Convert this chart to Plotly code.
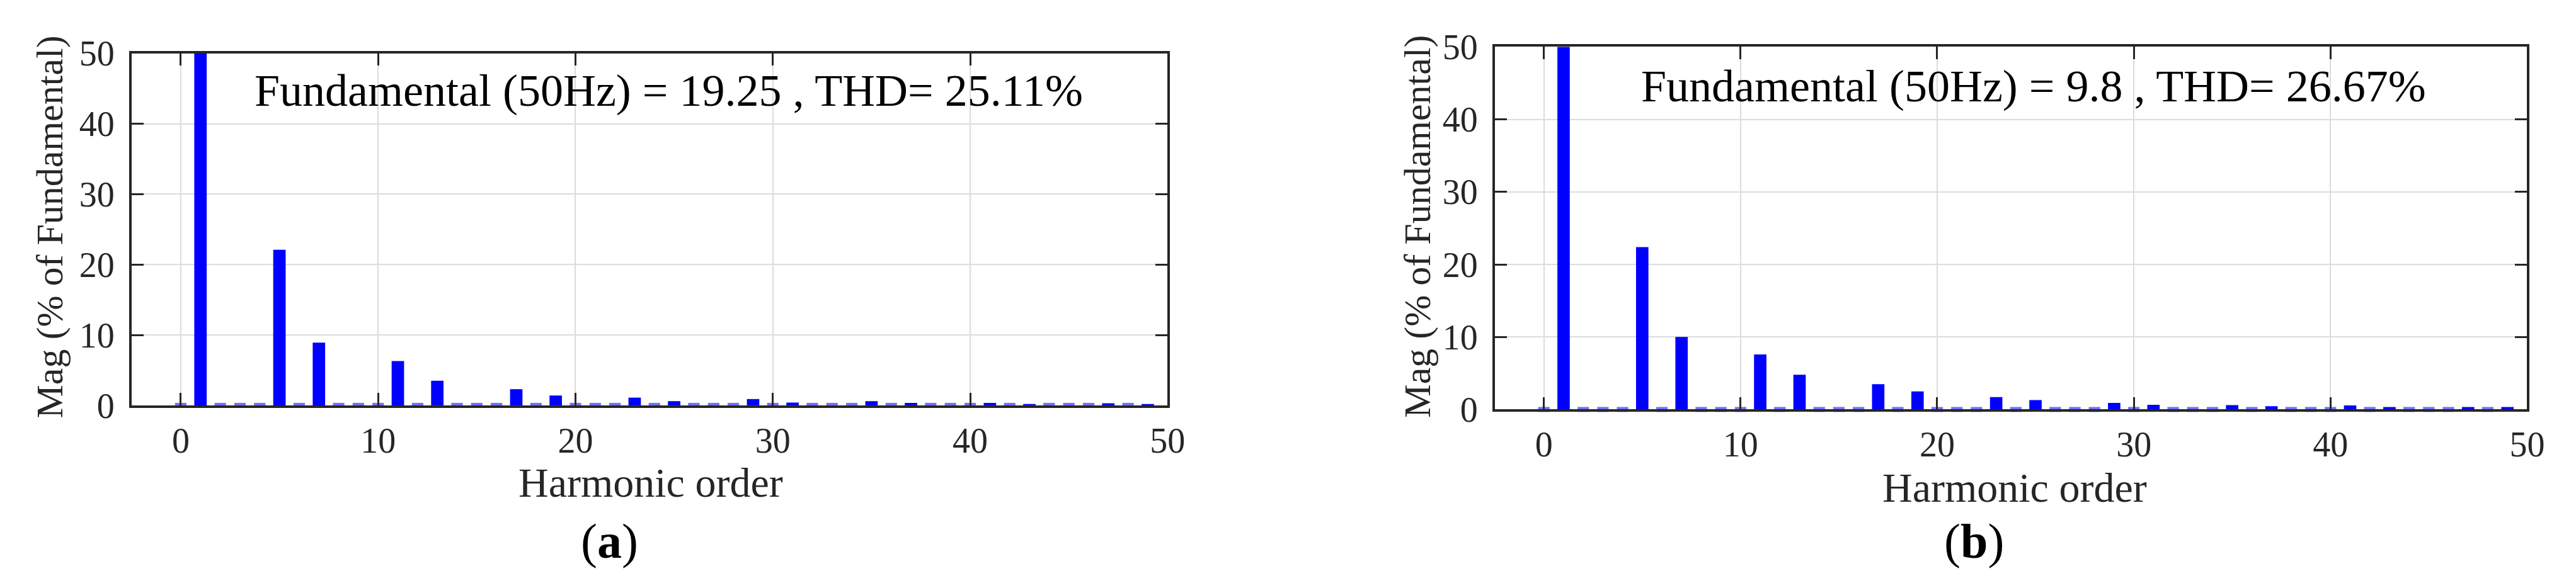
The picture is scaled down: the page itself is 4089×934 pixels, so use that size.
import plotly.graph_objects as go

# -----------------------------
# Daten
# -----------------------------
orders = [0, 1, 2, 3, 4, 5, 6, 7, 8, 9, 10, 11, 12, 13, 14, 15, 16, 17, 18, 19,
          20, 21, 22, 23, 24, 25, 26, 27, 28, 29, 30, 31, 32, 33, 34, 35, 36, 37, 38, 39,
          40, 41, 42, 43, 44, 45, 46, 47, 48, 49]

harm_a = [1, 5, 7, 11, 13, 17, 19, 23, 25, 29, 31, 35, 37, 41, 43, 47, 49]
mag_a = [100, 22.1, 8.9, 6.3, 3.5, 2.3, 1.4, 1.1, 0.6, 0.9, 0.4, 0.6, 0.35, 0.35, 0.2, 0.3, 0.2]

harm_b = [1, 5, 7, 11, 13, 17, 19, 23, 25, 29, 31, 35, 37, 41, 43, 47, 49]
mag_b = [100, 22.4, 10.0, 7.6, 4.8, 3.5, 2.5, 1.7, 1.3, 0.9, 0.65, 0.6, 0.45, 0.55, 0.35, 0.35, 0.35]

text_a = "Fundamental (50Hz) = 19.25 , THD= 25.11%"
text_b = "Fundamental (50Hz) = 9.8 , THD= 26.67%"
x_ticks = [0, 10, 20, 30, 40, 50]
y_ticks = [0, 10, 20, 30, 40, 50]

W, H = 4089, 934
FONT = "Liberation Serif"
BLUE = "#0000ff"
DASH = "#7070ff"
AXC = "#262626"


def px(x):
    return x / W


def py(y):
    return 1 - y / H


fig = go.Figure()

# gestrichelte Nulllinie: Striche bei den Ordnungen ohne Balken
for xa, ya, harm in [("x", "y", harm_a), ("x2", "y2", harm_b)]:
    leer = [o for o in orders if o not in harm]
    fig.add_scatter(x=leer, y=[0] * len(leer), mode="markers",
                    marker=dict(symbol="line-ew", size=13, color=DASH,
                                line=dict(width=8, color=DASH)),
                    cliponaxis=False, xaxis=xa, yaxis=ya, showlegend=False,
                    hoverinfo="skip")

# Balken
fig.add_bar(x=harm_a, y=mag_a, width=0.63, marker_color=BLUE, marker_line_width=0,
            xaxis="x", yaxis="y", showlegend=False)
fig.add_bar(x=harm_b, y=mag_b, width=0.63, marker_color=BLUE, marker_line_width=0,
            xaxis="x2", yaxis="y2", showlegend=False)

axis_common = dict(
    showline=True, mirror="ticks", linecolor=AXC, linewidth=3.5,
    ticks="inside", ticklen=20, tickwidth=3, tickcolor=AXC,
    showgrid=True, gridcolor="#dcdcdc", gridwidth=2, zeroline=False,
    tickfont=dict(family=FONT, size=56, color=AXC),
)

fig.update_layout(
    width=W, height=H,
    margin=dict(l=0, r=0, t=0, b=0),
    paper_bgcolor="white", plot_bgcolor="white",
    barmode="overlay",
    xaxis=dict(domain=[px(202), px(1858)], range=[-2.5, 50], tickvals=x_ticks,
               anchor="y", ticklabelstandoff=4, **axis_common),
    yaxis=dict(domain=[py(649), py(50)], range=[0, 50], tickvals=y_ticks,
               anchor="x", ticklabelstandoff=12, **axis_common),
    xaxis2=dict(domain=[px(2381), px(4031)], range=[-2.5, 50], tickvals=x_ticks,
                anchor="y2", ticklabelstandoff=4, **axis_common),
    yaxis2=dict(domain=[py(656), py(39)], range=[0, 50], tickvals=y_ticks,
                anchor="x2", ticklabelstandoff=12, **axis_common),
)

ann = []
# Textfelder im Diagramm
ann.append(dict(x=px(397), y=py(114), text=text_a, xanchor="left", yanchor="middle",
                font=dict(family=FONT, size=72, color="black")))
ann.append(dict(x=px(2613), y=py(106), text=text_b, xanchor="left", yanchor="middle",
                font=dict(family=FONT, size=72, color="black")))
# Achsentitel
for cx, cy in [(1032, 780), (3212, 789)]:
    ann.append(dict(x=px(cx), y=py(cy), text="Harmonic order", xanchor="center",
                    yanchor="middle", font=dict(family=FONT, size=66, color=AXC)))
for cx, cy in [(72, 346), (2258, 345)]:
    ann.append(dict(x=px(cx), y=py(cy), text="Mag (% of Fundamental)", textangle=-90,
                    xanchor="center", yanchor="middle",
                    font=dict(family=FONT, size=60, color=AXC)))
# Untertitel (a), (b)
for cx, lab in [(966, "a"), (3147, "b")]:
    ann.append(dict(x=px(cx), y=py(880), text="(<b>" + lab + "</b>)", xanchor="center",
                    yanchor="middle", font=dict(family=FONT, size=78, color="black")))

for a in ann:
    a.update(xref="paper", yref="paper", showarrow=False)
fig.update_layout(annotations=ann)

fig.write_html("out.html")
